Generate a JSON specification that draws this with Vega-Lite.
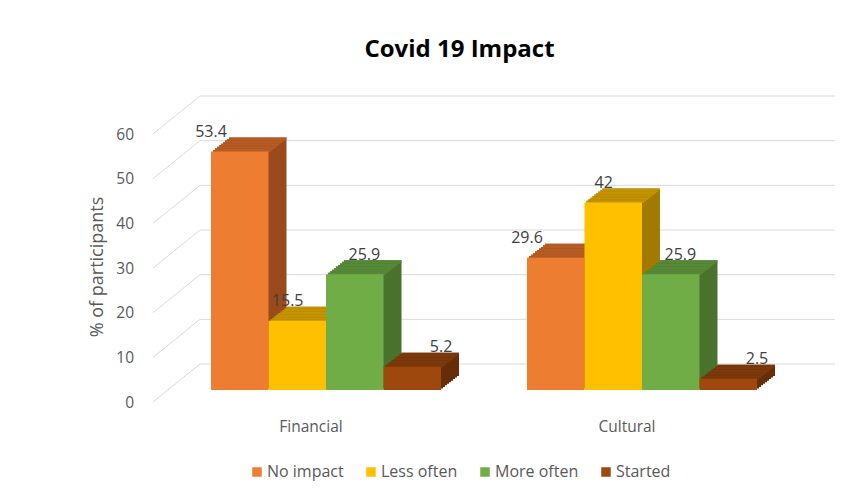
{
  "$schema": "https://vega.github.io/schema/vega-lite/v6.json",
  "autosize": "none",
  "width": 635,
  "height": 268,
  "padding": {"left": 200, "top": 96, "right": 6, "bottom": 136},
  "background": "white",
  "config": {"view": {"stroke": null}, "font": "Open Sans"},
  "title": {"text": "Covid 19 Impact", "font": "Open Sans", "fontSize": 24, "fontWeight": "bold", "color": "#000000", "anchor": "middle", "frame": "group", "dx": -58, "offset": 15, "baseline": "alphabetic"},
  "data": {"values": [
    {"cat": "Financial", "series": "No impact", "v": 53.4},
    {"cat": "Financial", "series": "Less often", "v": 15.5},
    {"cat": "Financial", "series": "More often", "v": 25.9},
    {"cat": "Financial", "series": "Started", "v": 5.2},
    {"cat": "Cultural", "series": "No impact", "v": 29.6},
    {"cat": "Cultural", "series": "Less often", "v": 42},
    {"cat": "Cultural", "series": "More often", "v": 25.9},
    {"cat": "Cultural", "series": "Started", "v": 2.5}
  ]},
  "resolve": {"scale": {"x": "independent"}},
  "layer": [
    {
      "data": {"values": [{"t": 0}, {"t": 10}, {"t": 20}, {"t": 30}, {"t": 40}, {"t": 50}, {"t": 60}]},
      "encoding": {"y": {"field": "t", "type": "quantitative", "scale": {"domain": [0, 60]}, "axis": null}},
      "layer": [
        {"mark": {"type": "rule", "color": "#D9D9D9", "strokeWidth": 1}, "encoding": {}},
        {"mark": {"type": "rule", "color": "#D9D9D9", "strokeWidth": 1, "yOffset": 38},
         "encoding": {
           "x": {"datum": 0, "type": "quantitative", "scale": {"domain": [0, 1], "range": [-47, 0]}, "axis": null},
           "x2": {"datum": 1},
           "y2": {"field": "t"}}},
        {"mark": {"type": "text", "align": "right", "baseline": "middle", "xOffset": -19, "yOffset": 38.5, "font": "Open Sans", "fontSize": 15.5, "color": "#595959"},
         "encoding": {
           "x": {"datum": 0, "type": "quantitative", "scale": {"domain": [0, 1], "range": [-47, 0]}, "axis": null},
           "text": {"field": "t", "type": "quantitative"}}},
        {"transform": [{"filter": {"field": "t", "equal": 30}}],
         "mark": {"type": "text", "angle": 270, "align": "center", "baseline": "middle", "xOffset": -55, "yOffset": 37, "font": "Open Sans", "fontSize": 18, "color": "#595959"},
         "encoding": {
           "x": {"datum": 0, "type": "quantitative", "scale": {"domain": [0, 1], "range": [-47, 0]}, "axis": null},
           "text": {"value": "% of participants"}}}
      ]
    },
    {
      "encoding": {
        "y": {"field": "v", "type": "quantitative", "stack": null, "scale": {"domain": [0, 60]}, "axis": null},
        "xOffset": {"field": "series", "type": "nominal", "sort": ["No impact", "Less often", "More often", "Started"], "scale": {"paddingInner": 0, "paddingOuter": 0}}
      },
      "resolve": {"scale": {"x": "independent", "xOffset": "independent", "color": "independent"}},
      "layer": [
        {"mark": {"type": "bar", "yOffset": 12, "y2Offset": 12},
         "encoding": {"x": {"field": "cat", "type": "nominal", "sort": ["Financial", "Cultural"], "scale": {"range": [29, 575], "paddingInner": 0.272, "paddingOuter": 0}, "axis": null}, "y2": {"datum": 0},
           "color": {"field": "series", "type": "nominal", "scale": {"domain": ["No impact", "Less often", "More often", "Started"], "range": ["#9A4A1B", "#A37A00", "#4A732E", "#652D08"]}, "legend": null}}},
        {"mark": {"type": "bar", "yOffset": 12, "y2Offset": 14.2},
         "encoding": {"x": {"field": "cat", "type": "nominal", "sort": ["Financial", "Cultural"], "scale": {"range": [29, 575], "paddingInner": 0.272, "paddingOuter": 0}, "axis": null}, "y2": {"field": "v"},
           "color": {"field": "series", "type": "nominal", "scale": {"domain": ["No impact", "Less often", "More often", "Started"], "range": ["#B65C24", "#C49300", "#578A38", "#7C390B"]}, "legend": null}}},

        {"mark": {"type": "bar", "yOffset": 13.56, "y2Offset": 13.56},
         "encoding": {"x": {"field": "cat", "type": "nominal", "sort": ["Financial", "Cultural"], "scale": {"range": [27, 573], "paddingInner": 0.272, "paddingOuter": 0}, "axis": null}, "y2": {"datum": 0},
           "color": {"field": "series", "type": "nominal", "scale": {"domain": ["No impact", "Less often", "More often", "Started"], "range": ["#9A4A1B", "#A37A00", "#4A732E", "#652D08"]}, "legend": null}}},
        {"mark": {"type": "bar", "yOffset": 13.56, "y2Offset": 15.76},
         "encoding": {"x": {"field": "cat", "type": "nominal", "sort": ["Financial", "Cultural"], "scale": {"range": [27, 573], "paddingInner": 0.272, "paddingOuter": 0}, "axis": null}, "y2": {"field": "v"},
           "color": {"field": "series", "type": "nominal", "scale": {"domain": ["No impact", "Less often", "More often", "Started"], "range": ["#B65C24", "#C49300", "#578A38", "#7C390B"]}, "legend": null}}},

        {"mark": {"type": "bar", "yOffset": 15.11, "y2Offset": 15.11},
         "encoding": {"x": {"field": "cat", "type": "nominal", "sort": ["Financial", "Cultural"], "scale": {"range": [25, 571], "paddingInner": 0.272, "paddingOuter": 0}, "axis": null}, "y2": {"datum": 0},
           "color": {"field": "series", "type": "nominal", "scale": {"domain": ["No impact", "Less often", "More often", "Started"], "range": ["#9A4A1B", "#A37A00", "#4A732E", "#652D08"]}, "legend": null}}},
        {"mark": {"type": "bar", "yOffset": 15.11, "y2Offset": 17.31},
         "encoding": {"x": {"field": "cat", "type": "nominal", "sort": ["Financial", "Cultural"], "scale": {"range": [25, 571], "paddingInner": 0.272, "paddingOuter": 0}, "axis": null}, "y2": {"field": "v"},
           "color": {"field": "series", "type": "nominal", "scale": {"domain": ["No impact", "Less often", "More often", "Started"], "range": ["#B65C24", "#C49300", "#578A38", "#7C390B"]}, "legend": null}}},

        {"mark": {"type": "bar", "yOffset": 16.67, "y2Offset": 16.67},
         "encoding": {"x": {"field": "cat", "type": "nominal", "sort": ["Financial", "Cultural"], "scale": {"range": [23, 569], "paddingInner": 0.272, "paddingOuter": 0}, "axis": null}, "y2": {"datum": 0},
           "color": {"field": "series", "type": "nominal", "scale": {"domain": ["No impact", "Less often", "More often", "Started"], "range": ["#9A4A1B", "#A37A00", "#4A732E", "#652D08"]}, "legend": null}}},
        {"mark": {"type": "bar", "yOffset": 16.67, "y2Offset": 18.87},
         "encoding": {"x": {"field": "cat", "type": "nominal", "sort": ["Financial", "Cultural"], "scale": {"range": [23, 569], "paddingInner": 0.272, "paddingOuter": 0}, "axis": null}, "y2": {"field": "v"},
           "color": {"field": "series", "type": "nominal", "scale": {"domain": ["No impact", "Less often", "More often", "Started"], "range": ["#B65C24", "#C49300", "#578A38", "#7C390B"]}, "legend": null}}},

        {"mark": {"type": "bar", "yOffset": 18.22, "y2Offset": 18.22},
         "encoding": {"x": {"field": "cat", "type": "nominal", "sort": ["Financial", "Cultural"], "scale": {"range": [21, 567], "paddingInner": 0.272, "paddingOuter": 0}, "axis": null}, "y2": {"datum": 0},
           "color": {"field": "series", "type": "nominal", "scale": {"domain": ["No impact", "Less often", "More often", "Started"], "range": ["#9A4A1B", "#A37A00", "#4A732E", "#652D08"]}, "legend": null}}},
        {"mark": {"type": "bar", "yOffset": 18.22, "y2Offset": 20.42},
         "encoding": {"x": {"field": "cat", "type": "nominal", "sort": ["Financial", "Cultural"], "scale": {"range": [21, 567], "paddingInner": 0.272, "paddingOuter": 0}, "axis": null}, "y2": {"field": "v"},
           "color": {"field": "series", "type": "nominal", "scale": {"domain": ["No impact", "Less often", "More often", "Started"], "range": ["#B65C24", "#C49300", "#578A38", "#7C390B"]}, "legend": null}}},

        {"mark": {"type": "bar", "yOffset": 19.78, "y2Offset": 19.78},
         "encoding": {"x": {"field": "cat", "type": "nominal", "sort": ["Financial", "Cultural"], "scale": {"range": [19, 565], "paddingInner": 0.272, "paddingOuter": 0}, "axis": null}, "y2": {"datum": 0},
           "color": {"field": "series", "type": "nominal", "scale": {"domain": ["No impact", "Less often", "More often", "Started"], "range": ["#9A4A1B", "#A37A00", "#4A732E", "#652D08"]}, "legend": null}}},
        {"mark": {"type": "bar", "yOffset": 19.78, "y2Offset": 21.98},
         "encoding": {"x": {"field": "cat", "type": "nominal", "sort": ["Financial", "Cultural"], "scale": {"range": [19, 565], "paddingInner": 0.272, "paddingOuter": 0}, "axis": null}, "y2": {"field": "v"},
           "color": {"field": "series", "type": "nominal", "scale": {"domain": ["No impact", "Less often", "More often", "Started"], "range": ["#B65C24", "#C49300", "#578A38", "#7C390B"]}, "legend": null}}},

        {"mark": {"type": "bar", "yOffset": 21.33, "y2Offset": 21.33},
         "encoding": {"x": {"field": "cat", "type": "nominal", "sort": ["Financial", "Cultural"], "scale": {"range": [17, 563], "paddingInner": 0.272, "paddingOuter": 0}, "axis": null}, "y2": {"datum": 0},
           "color": {"field": "series", "type": "nominal", "scale": {"domain": ["No impact", "Less often", "More often", "Started"], "range": ["#9A4A1B", "#A37A00", "#4A732E", "#652D08"]}, "legend": null}}},
        {"mark": {"type": "bar", "yOffset": 21.33, "y2Offset": 23.53},
         "encoding": {"x": {"field": "cat", "type": "nominal", "sort": ["Financial", "Cultural"], "scale": {"range": [17, 563], "paddingInner": 0.272, "paddingOuter": 0}, "axis": null}, "y2": {"field": "v"},
           "color": {"field": "series", "type": "nominal", "scale": {"domain": ["No impact", "Less often", "More often", "Started"], "range": ["#B65C24", "#C49300", "#578A38", "#7C390B"]}, "legend": null}}},

        {"mark": {"type": "bar", "yOffset": 22.89, "y2Offset": 22.89},
         "encoding": {"x": {"field": "cat", "type": "nominal", "sort": ["Financial", "Cultural"], "scale": {"range": [15, 561], "paddingInner": 0.272, "paddingOuter": 0}, "axis": null}, "y2": {"datum": 0},
           "color": {"field": "series", "type": "nominal", "scale": {"domain": ["No impact", "Less often", "More often", "Started"], "range": ["#9A4A1B", "#A37A00", "#4A732E", "#652D08"]}, "legend": null}}},
        {"mark": {"type": "bar", "yOffset": 22.89, "y2Offset": 25.09},
         "encoding": {"x": {"field": "cat", "type": "nominal", "sort": ["Financial", "Cultural"], "scale": {"range": [15, 561], "paddingInner": 0.272, "paddingOuter": 0}, "axis": null}, "y2": {"field": "v"},
           "color": {"field": "series", "type": "nominal", "scale": {"domain": ["No impact", "Less often", "More often", "Started"], "range": ["#B65C24", "#C49300", "#578A38", "#7C390B"]}, "legend": null}}},

        {"mark": {"type": "bar", "yOffset": 24.44, "y2Offset": 24.44},
         "encoding": {"x": {"field": "cat", "type": "nominal", "sort": ["Financial", "Cultural"], "scale": {"range": [13, 559], "paddingInner": 0.272, "paddingOuter": 0}, "axis": null}, "y2": {"datum": 0},
           "color": {"field": "series", "type": "nominal", "scale": {"domain": ["No impact", "Less often", "More often", "Started"], "range": ["#9A4A1B", "#A37A00", "#4A732E", "#652D08"]}, "legend": null}}},
        {"mark": {"type": "bar", "yOffset": 24.44, "y2Offset": 26.64},
         "encoding": {"x": {"field": "cat", "type": "nominal", "sort": ["Financial", "Cultural"], "scale": {"range": [13, 559], "paddingInner": 0.272, "paddingOuter": 0}, "axis": null}, "y2": {"field": "v"},
           "color": {"field": "series", "type": "nominal", "scale": {"domain": ["No impact", "Less often", "More often", "Started"], "range": ["#B65C24", "#C49300", "#578A38", "#7C390B"]}, "legend": null}}},

        {"mark": {"type": "bar", "yOffset": 26, "y2Offset": 26},
         "encoding": {"x": {"field": "cat", "type": "nominal", "sort": ["Financial", "Cultural"], "scale": {"range": [11, 557], "paddingInner": 0.272, "paddingOuter": 0},
             "axis": {"title": null, "labelAngle": 0, "ticks": false, "tickSize": 0, "domain": false, "grid": false, "labelOffset": -15, "labelPadding": 62, "labelBaseline": "middle", "labelFont": "Open Sans", "labelFontSize": 15.5, "labelColor": "#595959"}},
           "y2": {"datum": 0},
           "color": {"field": "series", "type": "nominal", "scale": {"domain": ["No impact", "Less often", "More often", "Started"], "range": ["#ED7D31", "#FFC000", "#70AD47", "#9E480E"]},
             "legend": {"orient": "none", "legendX": 49, "legendY": 368, "direction": "horizontal", "title": null, "symbolType": "square", "symbolSize": 90, "symbolStrokeWidth": 0, "labelFont": "Open Sans", "labelFontSize": 16, "labelColor": "#595959", "labelOffset": 2, "columnPadding": 19, "padding": 0}}}},

        {"mark": {"type": "text", "yOffset": 6.5, "font": "Open Sans", "fontSize": 16, "color": "#404040"},
         "encoding": {"x": {"field": "cat", "type": "nominal", "sort": ["Financial", "Cultural"], "scale": {"range": [11, 557], "paddingInner": 0.272, "paddingOuter": 0}, "axis": null}, "text": {"field": "v", "type": "quantitative"}}}
      ]
    }
  ]
}
